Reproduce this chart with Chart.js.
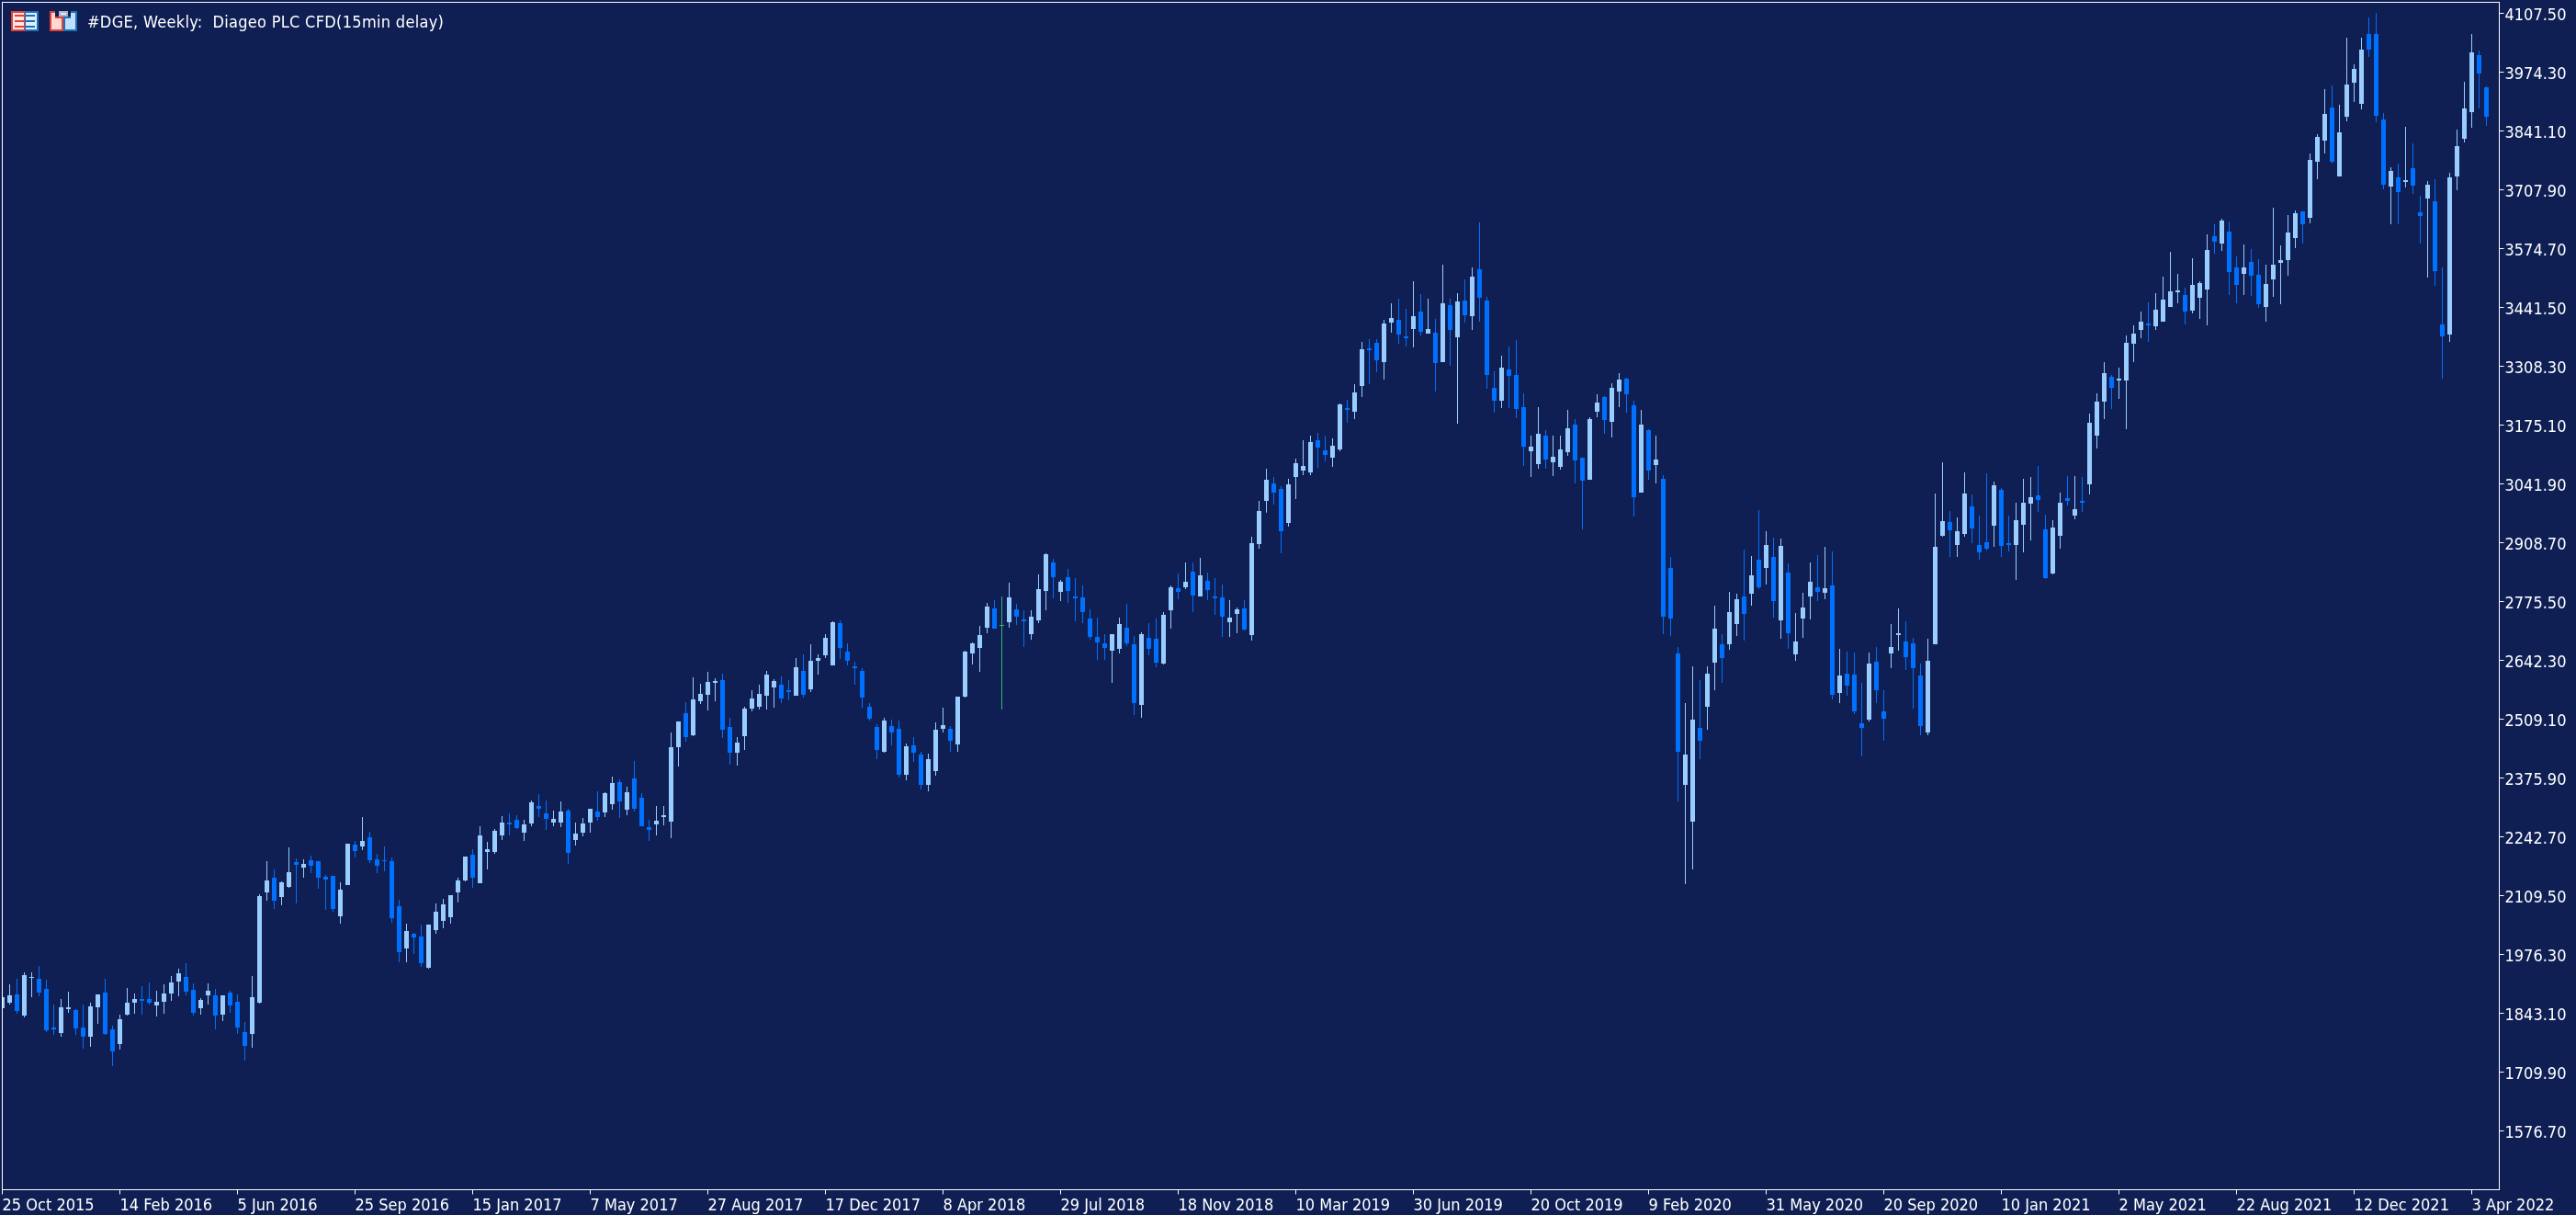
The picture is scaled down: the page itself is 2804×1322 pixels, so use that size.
<!DOCTYPE html>
<html>
<head>
<meta charset="utf-8">
<title>#DGE, Weekly</title>
<style>
  html, body { margin: 0; padding: 0; background: #0F1F54; }
  canvas { display: block; }
</style>
<script src="https://cdn.jsdelivr.net/npm/chart.js@4/dist/chart.umd.min.js"></script>
</head>
<body>
<canvas id="chart" width="2804" height="1322"></canvas>
<script>
// Weekly prices, one entry per week starting 25 Oct 2015.
const openPrices = [
1854.6,1867.1,1885.8,1837.9,1923.3,1921.2,1898.3,1810.9,1798.4,1852.5,
1850.4,1810.9,1790,1856.6,1889.9,1806.7,1773.4,1840,1867.1,1875.4,
1875.4,1860.8,1869.1,1887.9,1914.9,1925.3,1896.2,1854.6,1883.7,1883.7,
1840,1889.9,1869.1,1800.5,1796.3,1867.1,2116.8,2150.1,2106.4,2129.3,
2185.5,2173,2189.6,2187.6,2152.2,2154.3,2062.7,2133.5,2225,2220.9,
2241.7,2191.7,2189.6,2187.6,2085.6,1989.8,2023.2,2016.9,1946.1,2031.5,
2052.3,2060.7,2116.8,2143.8,2202.1,2137.6,2208.3,2208.3,2245.8,2274.9,
2281.2,2252,2272.8,2312.4,2295.7,2274.9,2274.9,2302,2235.4,2252,
2274.9,2299.9,2297.8,2316.6,2366.5,2304.1,2374.8,2331.1,2264.5,2270.8,
2287.4,2277,2445.6,2522.6,2472.6,2549.7,2564.2,2591.3,2597.5,2491.4,
2433.1,2470.6,2533,2537.2,2562.1,2580.9,2587.1,2574.6,2562.1,2618.3,
2576.7,2641.2,2653.7,2630.8,2726.7,2662,2628.7,2618.3,2537.1,2491.4,
2435.2,2493.4,2487.2,2383.1,2449.7,2428.9,2360.2,2391.5,2487.2,2487.2,
2451.8,2560,2657.9,2670.3,2716.1,2759.8,2720.3,2728.6,2757.8,2734.9,
2701.6,2732.8,2799.4,2863.9,2797.3,2830.6,2786.9,2784.8,2736.9,2695.3,
2680.7,2664.1,2668.2,2716.1,2678.7,2541.3,2693.2,2691.2,2635,2755.7,
2805.6,2807.7,2843.1,2786.9,2822.3,2786.9,2784.8,2728.6,2747.3,2759.8,
2699.5,2905.6,3003.4,3043,3030.5,2953.5,3057.5,3072.1,3067.9,3140.8,
3117.9,3101.2,3120,3213.6,3205.3,3263.6,3348.9,3361.4,3317.7,3407.2,
3413.4,3376,3392.6,3432.1,3382.2,3384.3,3317.7,3446.7,3373.9,3457.1,
3421.7,3527.9,3457.1,3259.4,3230.3,3301,3288.5,3215.7,3115.8,3086.7,
3151.2,3090.8,3080.4,3113.7,3176.2,3101.2,3051.3,3205.3,3238.6,3182.4,
3251.1,3280.2,3219.9,3022.2,3163.7,3084.6,3053.4,2851.5,2657.9,2360.3,
2277,2489.3,2537.2,2637.1,2678.7,2678.7,2724.5,2786.9,2793.2,2870.2,
2851.4,2876.4,2732.8,2841,2655.8,2737,2786.9,2807.7,2795.3,2811.9,
2568.4,2612.1,2610,2499.7,2508,2639.2,2526.8,2657.9,2699.5,2684.9,
2680.8,2607.9,2478.9,2678.7,2924.3,2955.6,2903.5,2928.5,2990.9,2903.5,
2909.8,2947.2,3028.4,2907.7,2903.5,2949.3,2997.2,3015.9,2938.9,2839,
2924.3,3009.7,2970.1,3003.4,3040.9,3151.2,3228.2,3284.4,3276.1,3276.1,
3359.3,3390.5,3405.1,3398.9,3409.3,3442.6,3475.9,3469.6,3434.2,3463.4,
3482.1,3602.8,3586.2,3613.2,3532.1,3517.5,3544.5,3515.4,3442.6,3505,
3542.5,3548.7,3598.7,3659,3644.4,3771.4,3819.3,3894.2,3738.1,3873.4,
3950.4,3902.5,4060.7,4060.7,3867.1,3715.2,3736,3725.6,3756.8,3656.9,
3688.1,3681.9,3403,3380.1,3738.1,3823.4,3883.8,4012.8,3940
];
const highPrices = [
1879.5,1908.7,1921.2,1935.7,1935.7,1950.3,1919.1,1862.9,1875.4,1892,
1852.5,1862.9,1867.1,1885.8,1921.2,1815,1840,1900.4,1887.9,1904.5,
1912.8,1894.1,1908.7,1927.4,1944.1,1956.5,1910.8,1877.5,1910.8,1898.3,
1883.7,1894.1,1885.8,1823.3,1927.4,2112.6,2187.6,2168.8,2141.8,2218.8,
2193.8,2191.7,2200.1,2187.6,2156.3,2154.3,2139.7,2227.1,2233.4,2287.5,
2254.2,2204.2,2220.9,2195.9,2100.2,2046,2025.2,2044,2044,2091.8,
2102.2,2110.6,2150.1,2197.9,2214.6,2266.6,2231.2,2260.4,2289.5,2295.7,
2291.6,2281.2,2324.9,2339.5,2324.9,2302,2322.8,2306.1,2274.9,2285.3,
2306.1,2345.7,2343.6,2379,2372.7,2356.1,2414.4,2341.5,2281.2,2312.4,
2312.4,2478.9,2503.9,2547.6,2603.8,2589.2,2616.3,2601.7,2612.1,2512.2,
2468.5,2537.2,2574.6,2587.1,2618.3,2599.6,2605.8,2597.5,2647.5,2655.8,
2678.7,2655.8,2701.6,2730.8,2732.9,2680.7,2639.1,2624.6,2545.5,2497.6,
2512.2,2508,2505.9,2453.9,2468.5,2435.2,2431,2501.8,2535.1,2493.4,
2560,2664.1,2682.8,2720.3,2772.3,2778.6,2786.9,2818.1,2770.2,2755.7,
2755.7,2836.8,2884.7,2872.2,2824.4,2849.3,2828.5,2811.9,2757.8,2739,
2701.6,2701.6,2739,2770.2,2697.4,2705.7,2726.5,2736.9,2751.5,2811.9,
2838.9,2863.9,2863.9,2874.3,2841,2828.5,2813.9,2778.6,2761.9,2778.6,
2922.2,3003.4,3076.3,3057.5,3036.7,3053.4,3099.2,3140.8,3151.2,3157.4,
3151.2,3144.9,3224,3232.4,3267.7,3363.5,3369.7,3369.7,3413.4,3450.9,
3461.3,3438.4,3500.8,3471.7,3461.3,3415.5,3538.3,3461.3,3473.8,3505,
3532,3634,3465.4,3296.9,3332.2,3353.1,3367.6,3246.9,3151.2,3215.7,
3163.7,3151.2,3151.2,3209.5,3188.6,3101.2,3192.8,3244.8,3240.7,3269.8,
3292.7,3282.3,3230.3,3209.5,3165.8,3151.2,3061.7,2876.5,2672.5,2545.5,
2628.8,2597.5,2628.8,2766.1,2701.6,2797.3,2793.2,2893.1,2878.5,2982.6,
2934.7,2920.1,2918,2861.9,2749.5,2795.3,2863.9,2880.6,2899.3,2888.9,
2668.3,2662.1,2660,2591.3,2660,2672.5,2574.6,2724.5,2759.9,2730.7,
2693.3,2635,2691.2,3020,3090.8,2980.5,2966,3068,3018,2970.1,
3065.9,3047.1,3032.6,2970.1,2999.3,3053.4,3057.5,3082.5,2972.2,2959.7,
3022.2,3059.6,3059.6,3057.5,3201.1,3246.9,3317.7,3288.6,3305.2,3378.1,
3400.9,3432.2,3453,3473.8,3511.2,3567.4,3517.5,3486.3,3552.9,3500.8,
3607,3629.9,3642.4,3636.1,3557,3584.1,3573.7,3550.8,3538.3,3667.3,
3582,3650.7,3661.1,3659,3790.1,3833.8,3935.8,3944.1,3900.4,4052.4,
3992,4052.4,4098.2,4108.6,3881.7,3758.9,3767.2,3850.5,3813,3694.4,
3727.7,3731.9,3532.1,3746.4,3844.2,3952.5,4060.7,4023.2,3942.1
];
const lowPrices = [
1854.6,1862.9,1842.1,1833.8,1879.5,1881.6,1800.5,1794.2,1790,1844.2,
1794.2,1763,1767.2,1819.2,1794.2,1723.4,1760.9,1837.9,1842.1,1840,
1862.9,1835.8,1842.1,1871.2,1881.6,1883.7,1837.9,1840,1862.9,1806.7,
1825.4,1844.2,1796.3,1735.9,1765.1,1865,2098.1,2079.3,2087.7,2127.2,
2091.8,2150.1,2160.5,2125.1,2077.3,2073.1,2046,2133.5,2195.9,2212.5,
2183.4,2160.5,2164.7,2048.1,1958.6,1958.6,1977.4,1948.2,1944.1,2023.2,
2035.7,2046,2094.6,2141.7,2127.2,2137.6,2168.8,2204.2,2235.4,2245.8,
2260.4,2233.3,2266.6,2287.4,2258.3,2266.6,2264.5,2181.3,2222.9,2243.7,
2252,2279.1,2287.4,2304.1,2285.3,2291.6,2299.9,2266.6,2233.3,2245.8,
2268.7,2239.5,2401.9,2458.1,2470.6,2543.4,2528.8,2549.7,2466.4,2406,
2404,2439.4,2526.8,2530.9,2530.9,2535.1,2545.5,2551.7,2562.1,2558,
2570.5,2610,2647.5,2630.8,2645.4,2630.8,2587.1,2535.1,2505.9,2418.5,
2433.1,2449.7,2376.9,2370.6,2412.3,2349.8,2345.7,2381,2478.9,2435.2,
2435.2,2558,2632.9,2616.2,2703.6,2714,2530.9,2716.1,2722.4,2672.4,
2689.1,2726.5,2755.7,2782.7,2776.5,2772.3,2730.7,2726.5,2689.1,2643.3,
2643.3,2591.3,2657.9,2674.5,2518.4,2512.2,2653.7,2626.6,2632.9,2714,
2780.6,2803.5,2751.5,2786.9,2778.6,2745.3,2695.3,2695.3,2703.6,2709.9,
2687,2895.2,2977,2995.1,2884.8,2945.1,3007.6,3061.7,3061.7,3078.3,
3092.9,3080.4,3115.8,3180.3,3188.6,3238.6,3267.7,3294.8,3278.1,3384.3,
3359.3,3353.1,3351,3378,3382.2,3251.1,3317.7,3309.3,3178.2,3407.2,
3390.5,3409.2,3257.3,3203.2,3213.6,3213.6,3190.7,3082.5,3057.5,3076.3,
3076.3,3059.6,3074.2,3105.4,3043,2938.9,3051.3,3192.8,3155.3,3147,
3215.7,3203.2,2968,3022.2,3051.3,3043,2701.6,2697.5,2322.8,2135.5,
2168.8,2418.6,2485.1,2574.6,2591.3,2666.2,2697.4,2687,2766.1,2803.6,
2814,2739.1,2691.2,2668.3,2641.2,2693.3,2734.9,2776.5,2780.7,2553.8,
2545.5,2562.2,2520.5,2424.8,2503.9,2545.5,2460.2,2624.6,2664.1,2620.4,
2533,2472.7,2472.7,2678.7,2922.3,2876.5,2876.5,2922.3,2907.7,2870.2,
2891,2899.4,2876.5,2889,2824.4,2886.9,2913.9,2978.5,2826.5,2836.9,
2895.2,2993,2961.8,2978.5,3018,3122.1,3188.7,3211.6,3234.4,3165.8,
3317.7,3371.8,3363.5,3390.5,3409.3,3442.6,3450.9,3403,3428,3415.5,
3400.9,3563.3,3569.5,3469.6,3450.9,3469.6,3467.5,3440.5,3409.3,3465.5,
3448.8,3513.3,3575.8,3586.2,3632,3731.9,3790.1,3767.2,3738.1,3863,
3906.7,3890,4008.7,3860.9,3709,3629.9,3629.9,3713.1,3698.6,3586.2,
3509.2,3490.4,3280.2,3363.5,3706.9,3815.1,3848.4,3892.1,3852.6
];
const closePrices = [
1879.5,1883.7,1848.3,1929.5,1925.3,1889.9,1804.6,1806.7,1856.6,1856.6,
1808.8,1790,1858.7,1885.8,1796.3,1756.7,1829.6,1867.1,1875.4,1871.2,
1867.1,1869.1,1887.9,1912.8,1933.7,1892,1844.2,1873.3,1894.1,1837.9,
1883.7,1860.8,1810.9,1769.2,1879.5,2108.5,2143.9,2098.1,2139.7,2162.6,
2179.2,2181.3,2177.2,2150.1,2145.9,2079.3,2123,2227.1,2210.5,2233.4,
2189.6,2177.2,2187.6,2058.5,1981.5,2029.4,2014.8,1956.5,2044,2073.1,
2089.7,2110.6,2143.8,2197.9,2150.1,2245.8,2214.6,2256.2,2274.9,2270.8,
2262.4,2270.8,2320.7,2306.1,2283.3,2283.3,2299.9,2206.2,2250,2272.8,
2306.1,2287.4,2341.5,2364.4,2322.8,2343.6,2306.1,2266.6,2258.3,2279.1,
2291.6,2445.6,2503.9,2468.5,2553.8,2566.3,2593.4,2595.4,2485.1,2433.1,
2456,2533,2555.9,2566.3,2610,2595.4,2555.9,2570.5,2626.7,2564.2,
2641.2,2647.5,2693.3,2728.7,2670.4,2641.2,2624.6,2558,2510.1,2439.3,
2505.9,2478.9,2383.1,2447.6,2433.1,2360.2,2418.5,2485.1,2495.5,2460.1,
2560,2662,2680.7,2699.5,2764,2714,2722.4,2784.8,2741.1,2730.7,
2741.1,2803.5,2882.6,2830.6,2820.2,2799.4,2782.7,2751.5,2695.3,2682.8,
2670.3,2701.6,2724.5,2680.7,2545.5,2701.6,2668.3,2637,2745.3,2807.7,
2797.3,2820.2,2789,2834.8,2801.5,2782.7,2741.1,2739,2757.8,2712,
2907.6,2980.5,3051.3,3022.2,2934.7,3040.9,3088.7,3082.5,3136.6,3124.1,
3107.5,3128.3,3221.9,3209.5,3249,3346.8,3344.7,3321.8,3405.1,3417.6,
3380.1,3371.8,3421.7,3386.4,3392.6,3315.6,3450.9,3390.5,3455,3423.8,
3511.2,3463.4,3288.5,3230.3,3305.2,3286.5,3211.5,3126.2,3126.2,3155.3,
3097.1,3103.3,3120,3167.8,3095,3049.2,3188.6,3226.1,3186.6,3259.4,
3278.1,3244.8,3011.7,3176.2,3072.1,3097.1,2741.2,2737,2435.2,2429,
2508,2460.2,2612.1,2714.1,2647.5,2751.6,2780.7,2747.4,2834.8,2807.7,
2903.5,2776.5,2901.4,2703.7,2684.9,2762,2820.2,2797.3,2805.7,2564.2,
2607.9,2585,2526.8,2489.3,2635,2574.6,2510.1,2672.5,2703.7,2649.6,
2624.6,2493.5,2641.2,2899.3,2957.6,2936.8,2934.7,3020.1,2941,2886.9,
2895.2,3038.8,2901.4,2903.5,2959.7,2999.3,3011.8,3005.5,2828.6,2943.1,
2999.3,3003.4,2984.7,2999.3,3180.3,3228.2,3292.7,3259.4,3280.2,3361.4,
3382.2,3409.3,3400.9,3436.3,3459.2,3477.9,3480,3432.2,3492.5,3496.7,
3571.6,3590.3,3638.2,3521.7,3492.5,3532.1,3513.3,3448.8,3494.6,3538.3,
3548.7,3611.1,3654.8,3629.9,3775.6,3827.6,3879.6,3771.4,3838,3946.2,
3981.6,4025.3,4025.3,3875.5,3719.4,3750.6,3702.7,3729.8,3717.3,3648.6,
3719.4,3523.7,3376,3736,3806.8,3892.1,4019.1,3971.2,3873.4
];

// Week indexes drawn in the doji colour.
const dojiWeeks = [136];

// The time axis carries a date every sixteen weeks.
const weeksPerDateLabel = 16;
const dateLabels = [
  '25 Oct 2015', '14 Feb 2016', '5 Jun 2016', '25 Sep 2016', '15 Jan 2017', '7 May 2017',
  '27 Aug 2017', '17 Dec 2017', '8 Apr 2018', '29 Jul 2018', '18 Nov 2018', '10 Mar 2019',
  '30 Jun 2019', '20 Oct 2019', '9 Feb 2020', '31 May 2020', '20 Sep 2020', '10 Jan 2021',
  '2 May 2021', '22 Aug 2021', '12 Dec 2021', '3 Apr 2022'
];
const priceLabels = [
  '4107.50', '3974.30', '3841.10', '3707.90', '3574.70', '3441.50', '3308.30', '3175.10',
  '3041.90', '2908.70', '2775.50', '2642.30', '2509.10', '2375.90', '2242.70', '2109.50',
  '1976.30', '1843.10', '1709.90', '1576.70'
];

const COLORS = {
  background: '#0F1F54',
  frame: '#FFFFFF',
  up: '#99CCFF',
  down: '#0070FF',
  doji: '#3CB371'
};
const FONT_FAMILY = '"DejaVu Sans Condensed", "DejaVu Sans", sans-serif';
const FONT_SIZE = 18;

function candleColor(week) {
  if (dojiWeeks.includes(week)) return COLORS.doji;
  return closePrices[week] > openPrices[week] ? COLORS.up : COLORS.down;
}

const wickPoints = highPrices.map((high, week) => ({ x: week, y: [lowPrices[week], high] }));
const bodyPoints = openPrices.map((open, week) => ({
  x: week,
  y: [Math.min(open, closePrices[week]), Math.max(open, closePrices[week])]
}));
const weekColors = openPrices.map((_, week) => candleColor(week));

const barDefaults = {
  grouped: false,
  categoryPercentage: 1,
  barPercentage: 1,
  borderWidth: 0,
  inflateAmount: 0,
  borderSkipped: false,
  backgroundColor: weekColors
};

// Fixed gutters around the plot area, so the frame sits on whole pixels.
function fixGutter(scale, size) {
  if (scale.isHorizontal()) scale.height = size; else scale.width = size;
  scale.paddingLeft = scale.paddingRight = scale.paddingTop = scale.paddingBottom = 0;
}

const terminalChrome = {
  id: 'terminalChrome',
  afterDraw(chart) {
    const { ctx, chartArea: a } = chart;
    ctx.save();
    ctx.strokeStyle = COLORS.frame;
    ctx.lineWidth = 1;
    ctx.strokeRect(a.left, a.top, a.right - a.left, a.bottom - a.top);

    // Toolbar icon: table.
    ctx.fillStyle = '#E0403A'; ctx.fillRect(12, 12, 15, 22);
    ctx.fillStyle = '#1C6FB8'; ctx.fillRect(27, 12, 15, 22);
    ctx.fillStyle = '#FFE6E0'; ctx.fillRect(14, 14, 12, 18);
    ctx.fillStyle = '#DCEFFC'; ctx.fillRect(28, 14, 12, 18);
    [16, 22, 28].forEach(y => {
      ctx.fillStyle = '#E0403A'; ctx.fillRect(16, y, 10, 2);
      ctx.fillStyle = '#1C6FB8'; ctx.fillRect(28, y, 10, 2);
    });

    // Toolbar icon: disks.
    ctx.fillStyle = '#E0403A'; ctx.fillRect(54, 12, 15, 22);
    ctx.fillStyle = '#1C6FB8'; ctx.fillRect(69, 12, 15, 22);
    ctx.fillStyle = '#FFD9CF'; ctx.fillRect(56, 14, 4, 18); ctx.fillRect(60, 20, 7, 12);
    ctx.fillStyle = '#BFE0FA'; ctx.fillRect(71, 20, 11, 12); ctx.fillRect(77, 14, 5, 6);
    ctx.fillStyle = '#0F1F54'; ctx.fillRect(60, 12, 17, 6);
    ctx.fillStyle = '#A9B2C6'; ctx.fillRect(64, 12, 10, 6);
    ctx.fillStyle = '#E6E9F0'; ctx.fillRect(66, 14, 6, 2);

    // Chart caption.
    ctx.fillStyle = COLORS.frame;
    ctx.font = FONT_SIZE + 'px ' + FONT_FAMILY;
    ctx.letterSpacing = '0.3px';
    ctx.textBaseline = 'alphabetic';
    ctx.textAlign = 'left';
    ctx.fillText('#DGE, Weekly:  Diageo PLC CFD(15min delay)', 95, 30);
    ctx.restore();
  }
};

new Chart(document.getElementById('chart'), {
  type: 'bar',
  data: {
    datasets: [
      Object.assign({ data: bodyPoints, barThickness: 5, maxBarThickness: 5 }, barDefaults),
      Object.assign({ data: wickPoints, barThickness: 1, maxBarThickness: 1 }, barDefaults)
    ]
  },
  plugins: [terminalChrome],
  options: {
    responsive: false,
    animation: false,
    events: [],
    layout: { padding: { left: 2.5, top: 2.5, right: 0, bottom: 0 } },
    plugins: { legend: { display: false }, tooltip: { enabled: false }, title: { display: false } },
    scales: {
      x: {
        type: 'linear',
        position: 'bottom',
        min: 0,
        max: 339.75,
        offset: false,
        afterFit: scale => fixGutter(scale, 27.5),
        afterBuildTicks: scale => {
          scale.ticks = dateLabels.map((_, i) => ({ value: i * weeksPerDateLabel }));
        },
        border: { display: false },
        grid: { drawOnChartArea: false, drawTicks: true, tickLength: 5, tickColor: COLORS.frame, tickWidth: 1, offset: false },
        ticks: {
          align: 'start',
          autoSkip: false,
          maxRotation: 0,
          minRotation: 0,
          padding: 2,
          color: COLORS.frame,
          font: { family: FONT_FAMILY, size: FONT_SIZE },
          callback: (value, index) => dateLabels[index]
        }
      },
      y: {
        type: 'linear',
        position: 'right',
        min: 1443.5,
        max: 4132.475,
        afterFit: scale => fixGutter(scale, 83.5),
        afterBuildTicks: scale => {
          scale.ticks = priceLabels.map(label => ({ value: parseFloat(label) }));
        },
        border: { display: false },
        grid: { drawOnChartArea: false, drawTicks: true, tickLength: 5, tickColor: COLORS.frame, tickWidth: 1 },
        ticks: {
          autoSkip: false,
          padding: 1,
          labelOffset: 2.5,
          color: COLORS.frame,
          font: { family: FONT_FAMILY, size: FONT_SIZE },
          callback: (value, index) => priceLabels[index]
        }
      }
    }
  }
});
</script>
</body>
</html>
